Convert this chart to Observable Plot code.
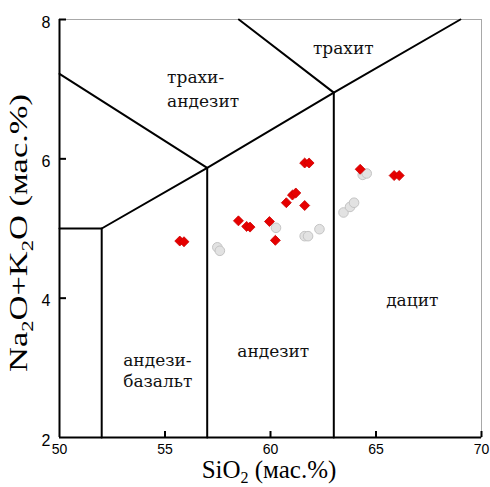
<!DOCTYPE html>
<html>
<head>
<meta charset="utf-8">
<script src="https://cdn.jsdelivr.net/npm/d3@7"></script>
<script src="https://cdn.jsdelivr.net/npm/@observablehq/plot@0.6"></script>
<style>
  html, body { margin: 0; padding: 0; background: white; }
  svg { display: block; }
  .fieldlbl text, .fieldlbl { font-family: 'DejaVu Serif', serif !important; }
</style>
</head>
<body>
<div id="chart"></div>
<script>
// Tick values
const xTickLabels = [50, 55, 60, 65, 70];
const xInnerTicks = [55, 60, 65, 70];
const yTickLabels = [2, 4, 6, 8];
const yInnerTicks = [4, 6, 8];

// Red diamonds (SiO2, Na2O+K2O)
const redSiO2 = [55.7, 55.9, 58.48, 58.87, 59.03, 59.95, 60.23, 60.75, 61.04, 61.2, 61.62, 61.62, 61.83, 64.25, 65.86, 66.1];
const redAlk  = [4.82, 4.81, 5.11, 5.03, 5.02, 5.10, 4.83, 5.37, 5.48, 5.51, 5.33, 5.94, 5.94, 5.85, 5.76, 5.76];

// Gray circles
const graySiO2 = [57.48, 57.6, 60.26, 61.62, 61.78, 62.32, 63.46, 63.77, 63.96, 64.37, 64.56];
const grayAlk  = [4.73, 4.68, 5.01, 4.89, 4.89, 4.99, 5.23, 5.31, 5.37, 5.77, 5.79];

// TAS field boundaries (polylines: SiO2, Na2O+K2O)
const boundaryLines = [
  [[50, 5], [52, 5], [57, 5.87], [63, 6.95], [69, 8]],
  [[50, 7.22], [57, 5.87]],
  [[63, 6.95], [58.5, 8]],
  [[52, 2], [52, 5]],
  [[57, 2], [57, 5.87]],
  [[63, 2], [63, 6.95]]
];

// Field names
const fieldNames  = ["трахит", "трахи-\nандезит", "андезит", "андези-\nбазальт", "дацит"];
const fieldSiO2   = [63.45, 55.1, 60.13, 53.02, 66.72];
const fieldAlk    = [7.58, 7.02, 3.24, 2.97, 3.96];
const fieldLeft   = [false, true, false, true, false];

const red = redSiO2.map((x, i) => ({x, y: redAlk[i]}));
const gray = graySiO2.map((x, i) => ({x, y: grayAlk[i]}));
const bounds = boundaryLines.flatMap((seg, k) => seg.map(([x, y]) => ({x, y, k})));
const fields = fieldNames.map((t, i) => ({t, x: fieldSiO2[i], y: fieldAlk[i], left: fieldLeft[i], i}));

const serif = "'Liberation Serif', 'DejaVu Serif', serif";
const cyrSerif = "'DejaVu Serif', serif";

const plot = Plot.plot({
  width: 490,
  height: 487,
  marginLeft: 59,
  marginRight: 9,
  marginTop: 19,
  marginBottom: 50,
  x: {domain: [50, 70]},
  y: {domain: [2, 8]},
  style: {fontFamily: "'Liberation Sans', Arial, sans-serif", fontSize: "14px", background: "white", color: "black"},
  marks: [
    Plot.frame({stroke: "#a8a8a8", strokeWidth: 1}),
    Plot.axisX({ticks: xTickLabels, tickSize: 0, tickPadding: 7, label: null, fontSize: 14, tickFormat: d => String(d)}),
    Plot.axisY({ticks: yTickLabels, tickSize: 0, tickPadding: 9, label: null, fontSize: 16, dy: 3, tickFormat: d => String(d)}),
    Plot.ruleX(xInnerTicks, {x: d => d, y1: 2, y2: 2, insetTop: -6, stroke: "black", strokeWidth: 2}),
    Plot.ruleY(yInnerTicks, {y: d => d, x1: 50, x2: 50, insetRight: -7, stroke: "black", strokeWidth: 2}),
    Plot.line(bounds, {x: "x", y: "y", z: "k", stroke: "black", strokeWidth: 2}),
    Plot.ruleX([50], {stroke: "black", strokeWidth: 2}),
    Plot.ruleY([2], {stroke: "black", strokeWidth: 2}),
    Plot.dot(gray, {x: "x", y: "y", r: 4.8, fill: "#e2e2e2", stroke: "#c4c4c4", strokeWidth: 1}),
    Plot.dot(red, {x: "x", y: "y", symbol: "diamond2", r: 4.5, fill: "#e60000", stroke: "#cc0000", strokeWidth: 0.8}),
    Plot.text(fields.filter(d => !d.left), {x: "x", y: "y", text: "t", className: "fieldlbl", fontFamily: cyrSerif, fontSize: 17, fill: "#111"}),
    Plot.text(fields.filter(d => d.left && d.i === 1), {x: "x", y: "y", text: "t", className: "fieldlbl", textAnchor: "start", lineHeight: 1.4, fontFamily: cyrSerif, fontSize: 17, fill: "#111"}),
    Plot.text(fields.filter(d => d.left && d.i === 3), {x: "x", y: "y", text: "t", className: "fieldlbl", textAnchor: "start", lineHeight: 1.24, fontFamily: cyrSerif, fontSize: 17, fill: "#111"})
  ]
});

document.getElementById("chart").appendChild(plot);

const svg = d3.select(plot);
// X axis title with subscript
const xt = svg.append("text")
  .attr("x", 269).attr("y", 478)
  .attr("text-anchor", "middle")
  .style("font-family", serif).attr("font-size", 25).attr("fill", "black");
xt.append("tspan").text("SiO");
xt.append("tspan").attr("font-size", 16).attr("dy", 5).text("2");
xt.append("tspan").attr("dy", -5).text(" (мас.%)");

// Y axis title with subscripts
const yt = svg.append("text")
  .attr("transform", "translate(27,233) rotate(-90)")
  .attr("text-anchor", "middle")
  .attr("textLength", 278).attr("lengthAdjust", "spacingAndGlyphs")
  .style("font-family", serif).attr("font-size", 26).attr("fill", "black");
yt.append("tspan").text("Na");
yt.append("tspan").attr("font-size", 17).attr("dy", 6).text("2");
yt.append("tspan").attr("dy", -6).text("O+K");
yt.append("tspan").attr("font-size", 17).attr("dy", 6).text("2");
yt.append("tspan").attr("dy", -6).text("O (мас.%)");
</script>
</body>
</html>
